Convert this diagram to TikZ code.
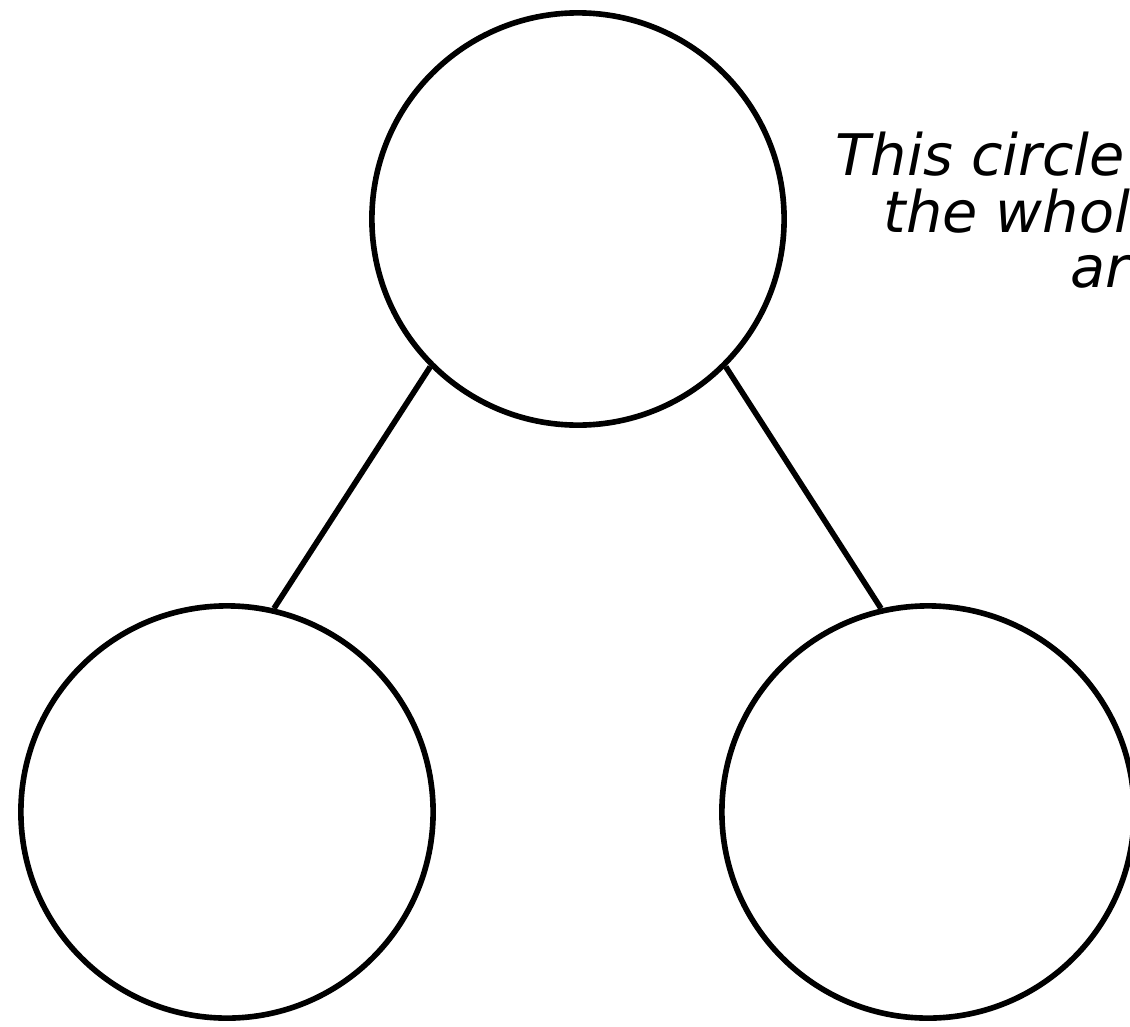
\documentclass[tikz,border=0pt]{standalone}
\usepackage{fontspec}
\setmainfont{DejaVu Sans}
\begin{document}
\begin{tikzpicture}
[
	partcircle/.style={circle,draw,line width=1.6pt,inner sep=0pt,minimum size=4.12cm},
	link/.style={line width=1.6pt},
	note/.style={anchor=base west,inner sep=0pt,font=\fontsize{16.3}{20}\selectfont\itshape},
	x=0.01cm,y=-0.01cm
]

	% page
	\useasboundingbox (0,0) rectangle (1130,1027);

	% circles
	\node[partcircle] at (578,219) (whole) {};
	\node[partcircle] at (227,812) (partA) {};
	\node[partcircle] at (928,812) (partB) {};

	% links
	\draw[link] (whole.225) -- (partA.77);
	\draw[link] (whole.315) -- (partB.103);

	% label
	\node[note] at (835,175) (line1) {This circle};
	\node[note] at (883,232) (line2) {the whole};
	\node[note] at (1070,287) (line3) {area};

\end{tikzpicture}
\end{document}
